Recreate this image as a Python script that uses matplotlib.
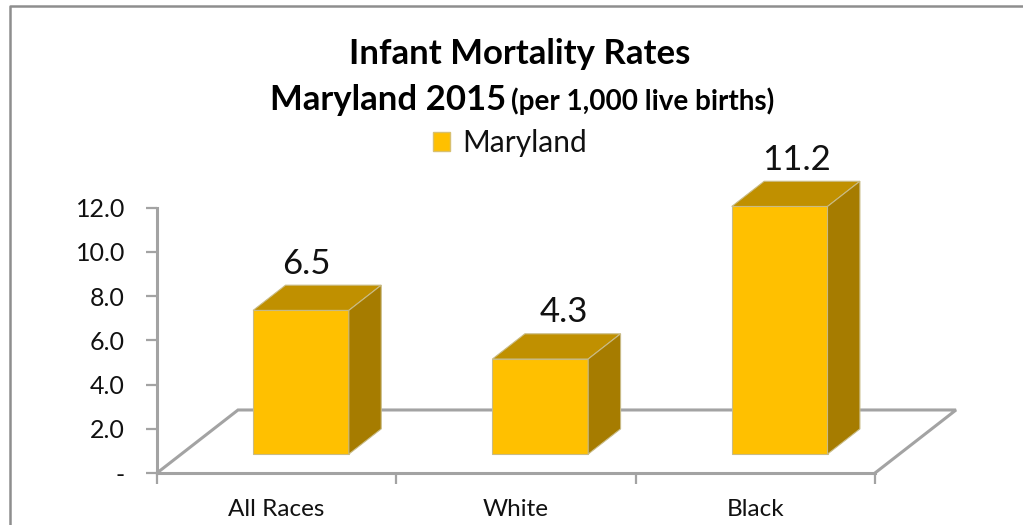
import matplotlib
matplotlib.use('Agg')
import matplotlib.pyplot as plt
from matplotlib.patches import Patch, Polygon

plt.rcParams['font.family'] = ['Lato', 'DejaVu Sans']

categories = ['All Races', 'White', 'Black']
values = [6.5, 4.3, 11.2]
label_shift = [5, 24, 17]
yticks = [0, 2, 4, 6, 8, 10, 12]
yticklabels = ['-', '2.0', '4.0', '6.0', '8.0', '10.0', '12.0']

W, H = 1023, 525
GREY = '#a3a3a3'
# floor depth in data units
depth_x = 81 / 239.3
depth_y = 63 / 22.1
bar_width = 0.4

fig = plt.figure(figsize=(W / 100, H / 100), dpi=100)
ax = fig.add_axes([157 / W, 1 - 473 / H, (875 - 157) / W, (473 - 207.7) / H])
ax.set_xlim(0, 3)
ax.set_ylim(0, 12)

# frame of the whole chart
fig.add_artist(plt.Line2D([10 / W, 10 / W, 1], [0, 1 - 6 / H, 1 - 6 / H], color='#8e8e8e', lw=1.8))

# floor
ax.plot([0, depth_x, 3 + depth_x, 3], [0, depth_y, depth_y, 0], color=GREY, lw=2.2,
        clip_on=False, zorder=1, solid_joinstyle='miter')


def bar3d(i, v):
    x0 = i + 0.5 - bar_width / 2 + 0.3 * depth_x
    x1 = x0 + bar_width
    y0 = 0.3 * depth_y
    y1 = y0 + v
    dx = 0.4 * depth_x
    dy = 0.4 * depth_y
    edge = '#c9bb85'
    ax.add_patch(Polygon([(x0, y0), (x1, y0), (x1, y1), (x0, y1)], fc='#ffc000', ec=edge, lw=0.8,
                         clip_on=False, zorder=3))
    ax.add_patch(Polygon([(x0, y1), (x1, y1), (x1 + dx, y1 + dy), (x0 + dx, y1 + dy)], fc='#c09000', ec=edge,
                         lw=0.8, clip_on=False, zorder=3))
    ax.add_patch(Polygon([(x1, y0), (x1 + dx, y0 + dy), (x1 + dx, y1 + dy), (x1, y1)], fc='#a67c00', ec=edge,
                         lw=0.8, clip_on=False, zorder=3))
    return x0 + bar_width / 2, y1 + dy


for i, v in enumerate(values):
    cx, top = bar3d(i, v)
    ax.annotate('%.1f' % v, (cx, top), xytext=(label_shift[i] * 0.72, 4), textcoords='offset points',
                ha='center', va='bottom', fontsize=25, color='#111111', annotation_clip=False)

for s in ['top', 'right']:
    ax.spines[s].set_visible(False)
for s in ['left', 'bottom']:
    ax.spines[s].set_color(GREY)
    ax.spines[s].set_linewidth(2.2)
ax.patch.set_visible(False)

ax.set_yticks(yticks)
ax.set_yticklabels(yticklabels, fontsize=18, color='#111111')
ax.set_xticks([0, 1, 2, 3])
ax.set_xticklabels([])
ax.set_xticks([0.5, 1.5, 2.5], minor=True)
ax.set_xticklabels(categories, minor=True, fontsize=17.5, color='#111111')
ax.tick_params(axis='x', which='minor', length=0, pad=19)
ax.tick_params(axis='both', which='major', length=8, width=1.6, color=GREY)
ax.tick_params(axis='y', which='major', pad=15)

# title
fig.text(520 / W, 1 - 54 / H, 'Infant Mortality Rates', ha='center', va='center', fontsize=25, fontweight='bold')
fig.text(270 / W, 1 - 110 / H, 'Maryland 2015', ha='left', va='baseline', fontsize=25, fontweight='bold')
fig.text(511 / W, 1 - 110 / H, '(per 1,000 live births)', ha='left', va='baseline', fontsize=20, fontweight='bold')

ax.legend(handles=[Patch(fc='#ffc000', ec='#d8c070', label='Maryland')], loc='center',
          bbox_to_anchor=(510 / W, 1 - 143 / H), bbox_transform=fig.transFigure, frameon=False,
          fontsize=21.5, handlelength=0.57, handleheight=0.57, handletextpad=0.4, labelcolor='#111111')

fig.savefig('out.png', dpi=100)
